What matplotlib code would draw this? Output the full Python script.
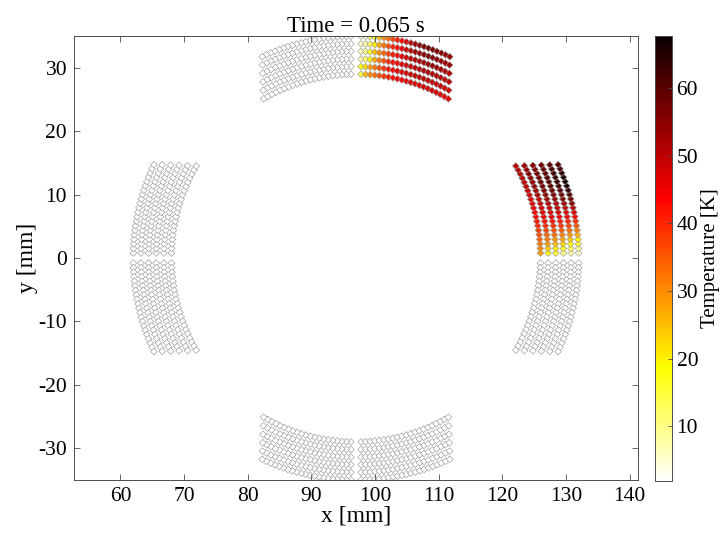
import numpy as np
import matplotlib.pyplot as plt

plt.rcParams['font.family'] = ['Liberation Serif', 'DejaVu Serif']
plt.rcParams['axes.unicode_minus'] = False

# coil geometry (mm)
centre = (97.0, 0.0)
layer_radii = [29.0, 30.2, 31.4, 32.6, 33.8, 35.0]
n_cond = 21
pitch = 0.72
gap = 0.8

T_cold = 1.9
T_min, T_max = 1.9, 67.7

# temperatures [K], one list per layer (inner -> outer), conductors from midplane outwards
top_right_T = [
    [14, 26, 30, 33, 36, 39, 41, 43, 44, 45, 46, 47, 47, 47, 48, 48, 48, 47, 47, 46, 46],
    [18, 22, 28, 32, 36, 39, 42, 44, 46, 47, 48, 49, 49, 50, 50, 50, 50, 49, 49, 48, 48],
    [7, 12, 20, 27, 32, 36, 40, 43, 45, 47, 48, 49, 50, 51, 52, 52, 52, 51, 51, 50, 50],
    [6, 10, 16, 25, 30, 34, 38, 41, 44, 46, 48, 50, 51, 52, 53, 54, 54, 53, 52, 52, 51],
    [5, 8, 12, 20, 27, 32, 36, 40, 43, 46, 49, 51, 53, 54, 55, 56, 56, 55, 54, 53, 53],
    [4, 6, 12, 18, 24, 30, 33, 37, 41, 44, 48, 50, 53, 55, 56, 57, 57, 56, 55, 54, 54],
]
right_upper_T = [
    [28, 30, 32, 34, 36, 38, 40, 42, 43, 44, 45, 46, 47, 48, 49, 50, 50, 51, 51, 51, 50],
    [18, 24, 28, 31, 34, 37, 40, 42, 44, 46, 48, 49, 50, 52, 53, 54, 54, 55, 55, 54, 53],
    [15, 20, 25, 29, 33, 36, 39, 42, 45, 47, 49, 51, 53, 55, 56, 57, 58, 58, 57, 56, 55],
    [10, 16, 22, 27, 31, 35, 38, 41, 44, 47, 50, 52, 54, 56, 58, 59, 60, 60, 59, 58, 57],
    [7, 12, 18, 24, 29, 33, 37, 40, 44, 47, 50, 53, 56, 58, 60, 62, 63, 63, 62, 61, 59],
    [5, 9, 14, 20, 26, 31, 35, 39, 43, 47, 51, 55, 58, 61, 64, 66, 67, 66, 64, 62, 60],
]

# half coils: start angle at the midplane gap (deg), winding direction, temperatures
half_coils = [
    (0, +1, right_upper_T),
    (0, -1, None),
    (90, -1, top_right_T),
    (90, +1, None),
    (180, -1, None),
    (180, +1, None),
    (270, +1, None),
    (270, -1, None),
]

xs, ys, Ts = [], [], []
for start, direction, temps in half_coils:
    for li, r in enumerate(layer_radii):
        arc = gap + pitch * np.arange(n_cond)
        th = np.deg2rad(start) + direction * arc / r
        xs.extend(centre[0] + r * np.cos(th))
        ys.extend(centre[1] + r * np.sin(th))
        Ts.extend(temps[li] if temps is not None else [T_cold] * n_cond)

fig = plt.figure(figsize=(7.23, 5.42), dpi=100)
ax = fig.add_axes([0.1024, 0.1144, 0.780, 0.819])
sc = ax.scatter(xs, ys, c=Ts, cmap='hot_r', vmin=T_min, vmax=T_max, marker='D',
                s=12, edgecolors='0.6', linewidths=0.45)

ax.set_xlim(52.7, 141.3)
ax.set_ylim(-35, 35)
ax.set_xticks(np.arange(60, 141, 10))
ax.set_yticks(np.arange(-30, 31, 10))
ax.tick_params(direction='in', length=4, width=0.6, color='0.3', labelsize=15.5,
               top=True, right=True, pad=5)
for s in ax.spines.values():
    s.set_color('0.3')
    s.set_linewidth(0.7)
ax.set_xlabel('x [mm]', fontsize=17, labelpad=0)
ax.set_ylabel('y [mm]', fontsize=17, labelpad=0)
ax.set_title('Time = 0.065 s', fontsize=16.5, pad=3)

cax = fig.add_axes([0.906, 0.1125, 0.023, 0.821])
cb = fig.colorbar(sc, cax=cax)
cb.set_ticks([10, 20, 30, 40, 50, 60])
cb.ax.tick_params(direction='in', length=3, width=0.6, color='0.3', labelsize=15.5)
cb.outline.set_edgecolor('0.3')
cb.outline.set_linewidth(0.7)
cb.set_label('Temperature [K]', fontsize=15, labelpad=2)

fig.savefig('out.png', dpi=100)
